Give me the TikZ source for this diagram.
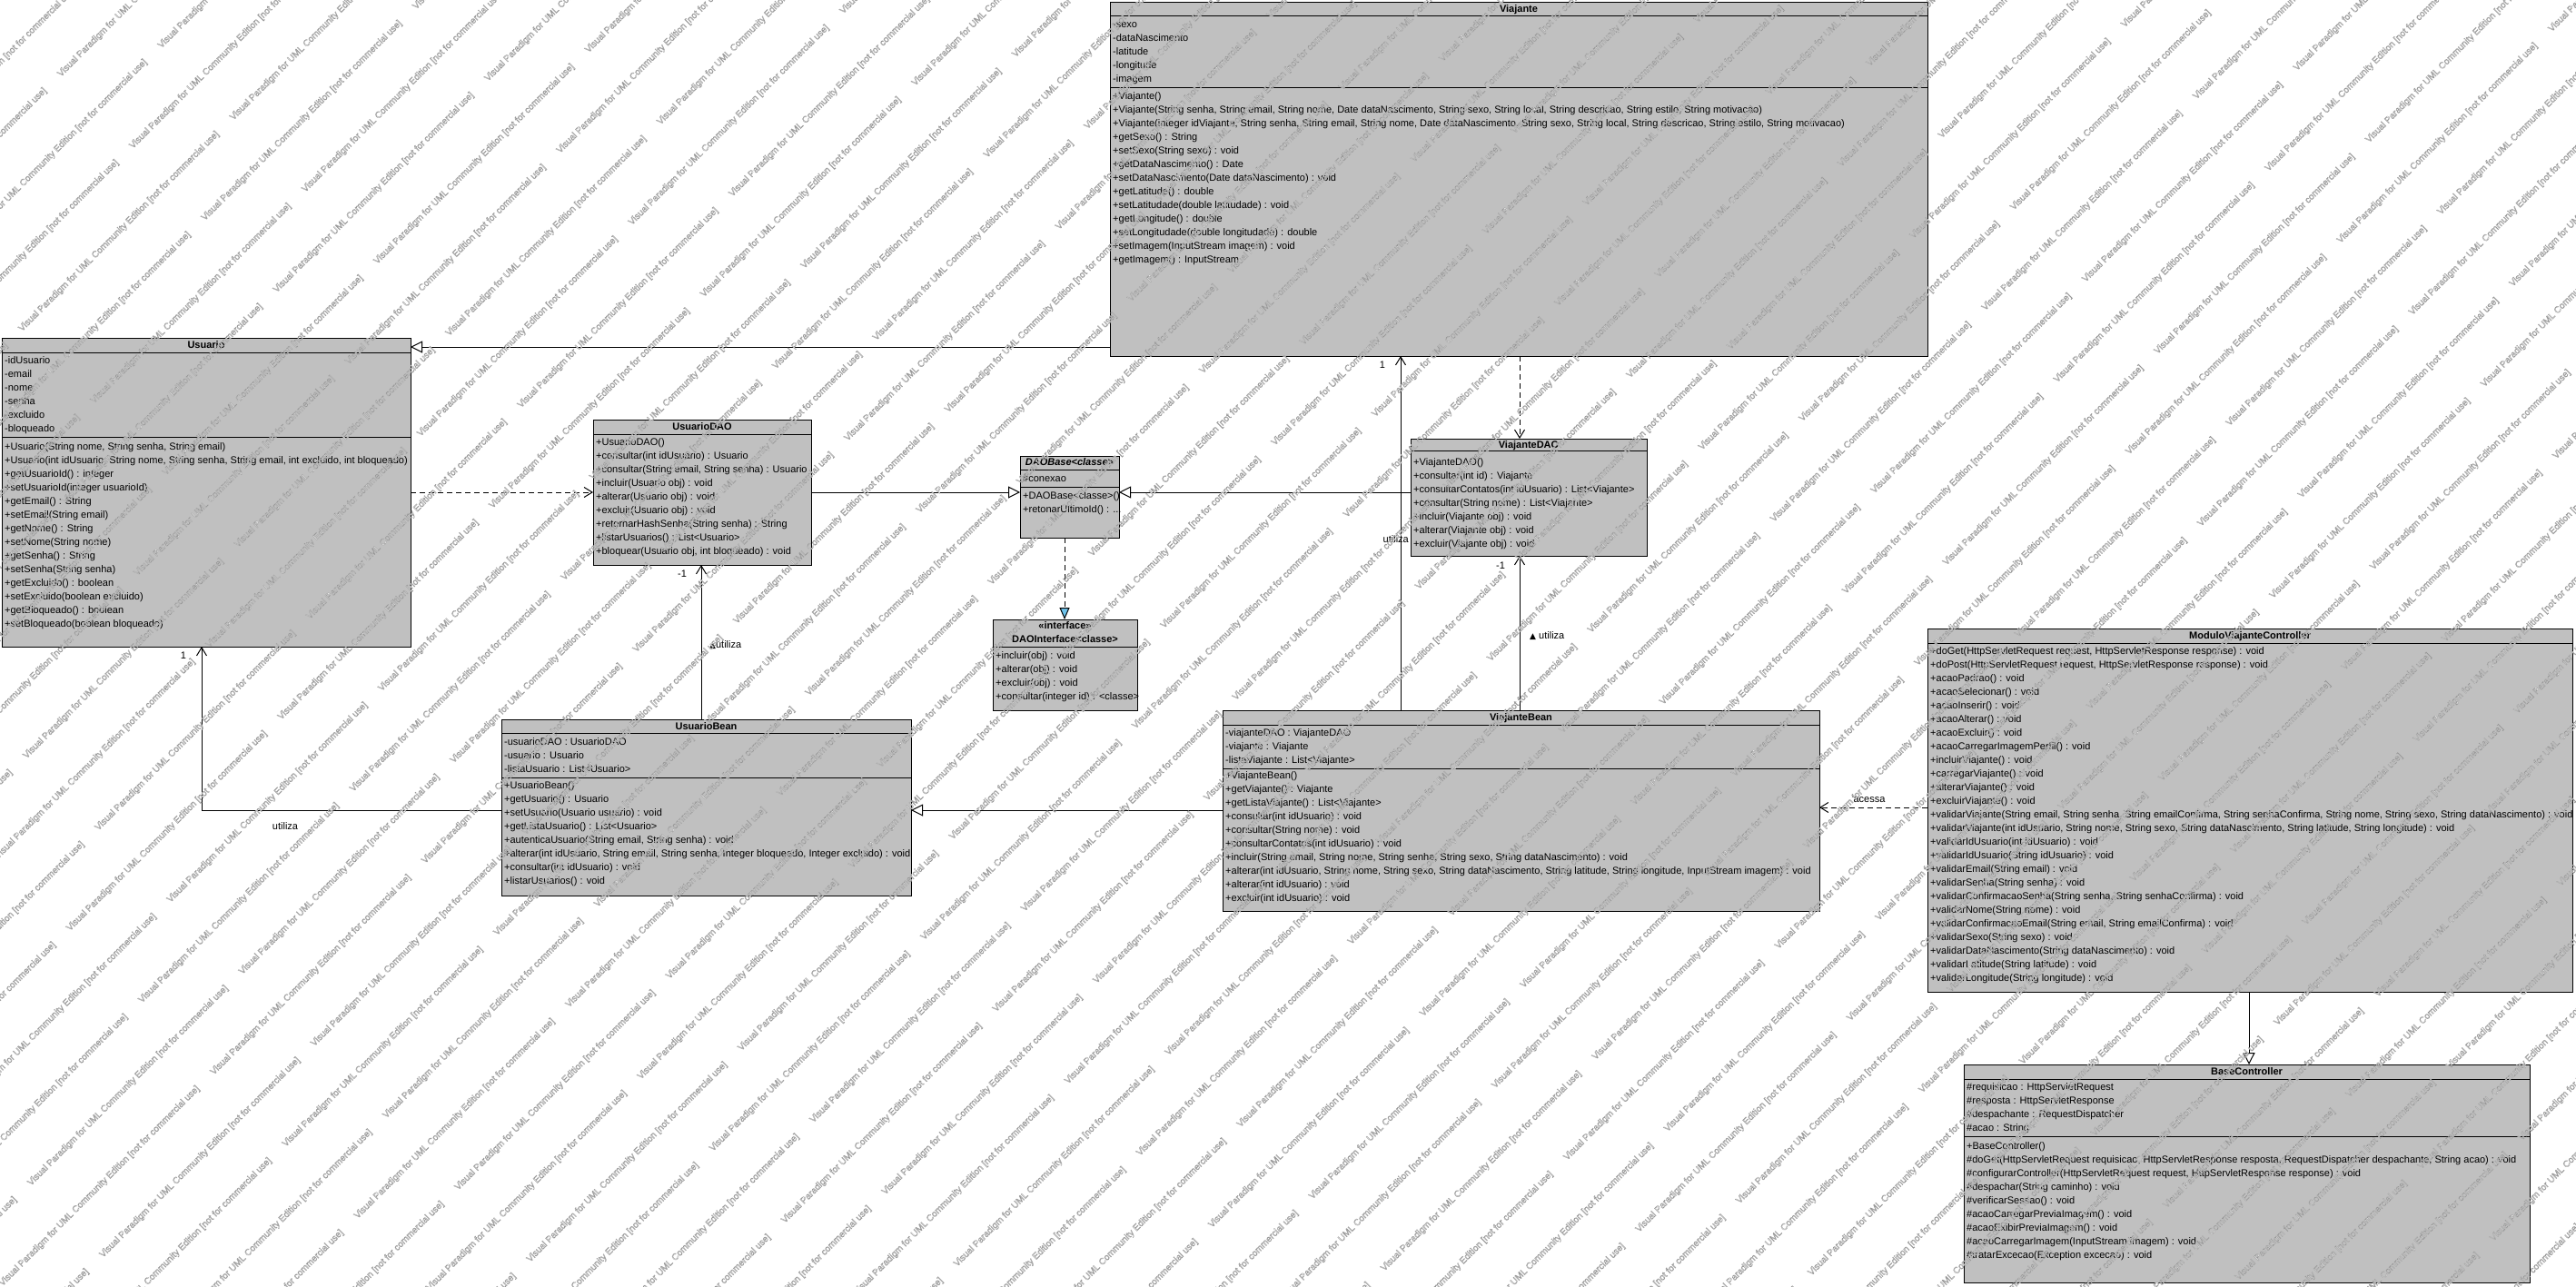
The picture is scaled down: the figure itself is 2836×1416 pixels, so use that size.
\documentclass[tikz,border=0pt]{standalone}
\usepackage{fontspec}
\setmainfont{Liberation Sans}
\newfontfamily\symfont{DejaVu Sans}
\usetikzlibrary{arrows.meta}
\definecolor{classfill}{RGB}{192,192,192}
\definecolor{realfill}{RGB}{110,195,235}

\tikzset{
  classbox/.style={draw=black, fill=classfill, line width=1pt, inner sep=0pt, outer sep=0pt, anchor=north west},
  row/.style={anchor=west, inner sep=0pt, font=\fontsize{11}{13}\selectfont, text height=8pt, text depth=2pt},
  ctitle/.style={anchor=center, inner sep=0pt, font=\fontsize{11}{13}\selectfont\bfseries, text height=8pt, text depth=2pt},
  lbl/.style={inner sep=0pt, font=\fontsize{11}{13}\selectfont, text height=8pt, text depth=2pt},
  wm/.style={anchor=base west, inner sep=0pt, rotate=45, text=white, font=\fontsize{10}{12}\selectfont},
  sepline/.style={line width=1pt},
  conn/.style={line width=1pt},
  gen/.style={conn, -{Triangle[fill=white, length=13pt, width=13pt]}},
  real/.style={conn, dash pattern=on 6pt off 4pt, -{Triangle[fill=realfill, length=13pt, width=11pt]}},
  assoc/.style={conn, -{Straight Barb[length=9pt, width=11pt, line width=1pt]}},
  depend/.style={conn, dash pattern=on 6pt off 4pt, -{Straight Barb[length=9pt, width=11pt, line width=1pt]}},
}

% class frame: name, left, top, right, bottom
\newcommand\umlbox[5]{\node[classbox, minimum width={#4-#2}, minimum height={#5-#3}] (#1) at (#2,#3) {};}
% compartment separator inside a class frame: name, y
\newcommand\umlsep[2]{\draw[sepline] (#1.west |- 0,#2) -- (#1.east |- 0,#2);}
% rows of a compartment: prefix, x, first y, items
\newcommand\umlrows[4]{\foreach \txt [count=\k from 0] in {#4} {\node[row] (#1-\k) at ({#2},{#3+15*\k}) {\txt};}}
% edition stamp, drawn as outlined glyphs (white fill, grey stroke)
\newcommand\stamptext{\special{pdf:literal direct 2 Tr 0.35 w 0.6 G}Visual Paradigm for UML Community Edition [not for commercial use]\special{pdf:literal direct 0 Tr}}

\begin{document}
\begin{tikzpicture}[x=1pt, y=-1pt]
\useasboundingbox (0,0) rectangle (2836,1416);
\fill[white] (0,0) rectangle (2836,1416);

% ---------------- Viajante ----------------
\umlbox{viajante}{1222}{2}{2122}{392}
\node[ctitle] (viajante-t) at (1672,10) {Viajante};
\umlsep{viajante}{17}
\umlrows{viajante-a}{1225}{27}{-sexo, -dataNascimento, -latitude, -longitude, -imagem}
\umlsep{viajante}{96}
\umlrows{viajante-m}{1225}{106}{
  {+Viajante()},
  {+Viajante(String senha, String email, String nome, Date dataNascimento, String sexo, String local, String descricao, String estilo, String motivacao)},
  {+Viajante(integer idViajante, String senha, String email, String nome, Date dataNascimento, String sexo, String local, String descricao, String estilo, String motivacao)},
  {+getSexo() : String},
  {+setSexo(String sexo) : void},
  {+getDataNascimento() : Date},
  {+setDataNascimento(Date dataNascimento) : void},
  {+getLatitude() : double},
  {+setLatitudade(double latitudade) : void},
  {+getLongitude() : double},
  {+setLongitudade(double longitudade) : double},
  {+setImagem(InputStream imagem) : void},
  {+getImagem() : InputStream}}

% ---------------- Usuario ----------------
\umlbox{usuario}{2}{372}{452}{712}
\node[ctitle] (usuario-t) at (227,380) {Usuario};
\umlsep{usuario}{388}
\umlrows{usuario-a}{5}{397}{-idUsuario, -email, -nome, -senha, -excluido, -bloqueado}
\umlsep{usuario}{481}
\umlrows{usuario-m}{5}{492}{
  {+Usuario(String nome, String senha, String email)},
  {+Usuario(int idUsuario, String nome, String senha, String email, int excluido, int bloqueado)},
  {+getUsuarioId() : integer},
  {+setUsuarioId(integer usuarioId)},
  {+getEmail() : String},
  {+setEmail(String email)},
  {+getNome() : String},
  {+setNome(String nome)},
  {+getSenha() : String},
  {+setSenha(String senha)},
  {+getExcluido() : boolean},
  {+setExcluido(boolean excluido)},
  {+getBloqueado() : boolean},
  {+setBloqueado(boolean bloqueado)}}

% ---------------- UsuarioDAO ----------------
\umlbox{usuariodao}{653}{462}{893}{622}
\node[ctitle] (usuariodao-t) at (773,470) {UsuarioDAO};
\umlsep{usuariodao}{478}
\umlrows{usuariodao-m}{656}{487}{
  {+UsuarioDAO()},
  {+consultar(int idUsuario) : Usuario},
  {+consultar(String email, String senha) : Usuario},
  {+incluir(Usuario obj) : void},
  {+alterar(Usuario obj) : void},
  {+excluir(Usuario obj) : void},
  {+retornarHashSenha(String senha) : String},
  {+listarUsuarios() : List<Usuario>},
  {+bloquear(Usuario obj, int bloqueado) : void}}

% ---------------- DAOBase ----------------
\umlbox{daobase}{1123}{502}{1232}{592}
\node[ctitle, font=\fontsize{11}{13}\selectfont\bfseries\itshape] (daobase-t) at (1177.5,509.5) {DAOBase<classe>};
\umlsep{daobase}{517}
\node[row] (daobase-a-0) at (1126,527) {\#conexao};
\umlsep{daobase}{536}
\node[row] (daobase-m-0) at (1126,546) {+DAOBase<classe>()};
\node[row] (daobase-m-1) at (1126,561) {+retonarUltimoId() : ...};

% ---------------- DAOInterface ----------------
\umlbox{daointerface}{1093}{682}{1252}{782}
\node[ctitle] (daointerface-s) at (1172.5,689) {<<interface>>};
\node[ctitle] (daointerface-t) at (1172.5,704) {DAOInterface<classe>};
\umlsep{daointerface}{712}
\umlrows{daointerface-m}{1096}{722}{
  {+incluir(obj) : void},
  {+alterar(obj) : void},
  {+excluir(obj) : void},
  {+consultar(integer id) : <classe>}}

% ---------------- ViajanteDAO ----------------
\umlbox{viajantedao}{1553}{483}{1813}{612}
\node[ctitle] (viajantedao-t) at (1683,490) {ViajanteDAO};
\umlsep{viajantedao}{496}
\umlrows{viajantedao-m}{1556}{509}{
  {+ViajanteDAO()},
  {+consultar(int id) : Viajante},
  {+consultarContatos(int idUsuario) : List<Viajante>},
  {+consultar(String nome) : List<Viajante>},
  {+incluir(Viajante obj) : void},
  {+alterar(Viajante obj) : void},
  {+excluir(Viajante obj) : void}}

% ---------------- UsuarioBean ----------------
\umlbox{usuariobean}{552}{792}{1003}{986}
\node[ctitle] (usuariobean-t) at (777.5,800) {UsuarioBean};
\umlsep{usuariobean}{807}
\umlrows{usuariobean-a}{555}{817}{
  {-usuarioDAO : UsuarioDAO},
  {-usuario : Usuario},
  {-listaUsuario : List<Usuario>}}
\umlsep{usuariobean}{856}
\umlrows{usuariobean-m}{555}{865}{
  {+UsuarioBean()},
  {+getUsuario() : Usuario},
  {+setUsuario(Usuario usuario) : void},
  {+getListaUsuario() : List<Usuario>},
  {+autenticaUsuario(String email, String senha) : void},
  {+alterar(int idUsuario, String email, String senha, Integer bloqueado, Integer excluido) : void},
  {+consultar(int idUsuario) : void},
  {+listarUsuarios() : void}}

% ---------------- ViajanteBean ----------------
\umlbox{viajantebean}{1346}{782}{2003}{1003}
\node[ctitle] (viajantebean-t) at (1674.5,790) {ViajanteBean};
\umlsep{viajantebean}{798}
\umlrows{viajantebean-a}{1349}{807}{
  {-viajanteDAO : ViajanteDAO},
  {-viajante : Viajante},
  {-listaViajante : List<Viajante>}}
\umlsep{viajantebean}{846}
\umlrows{viajantebean-m}{1349}{854}{
  {+ViajanteBean()},
  {+getViajante() : Viajante},
  {+getListaViajante() : List<Viajante>},
  {+consultar(int idUsuario) : void},
  {+consultar(String nome) : void},
  {+consultarContatos(int idUsuario) : void},
  {+incluir(String email, String nome, String senha, String sexo, String dataNascimento) : void},
  {+alterar(int idUsuario, String nome, String sexo, String dataNascimento, String latitude, String longitude, InputStream imagem) : void},
  {+alterar(int idUsuario) : void},
  {+excluir(int idUsuario) : void}}

% ---------------- ModuloViajanteController ----------------
\umlbox{modulo}{2122}{692}{2832}{1092}
\node[ctitle] (modulo-t) at (2477,700) {ModuloViajanteController};
\umlsep{modulo}{708}
\umlrows{modulo-m}{2125}{717}{
  {+doGet(HttpServletRequest request, HttpServletResponse response) : void},
  {+doPost(HttpServletRequest request, HttpServletResponse response) : void},
  {+acaoPadrao() : void},
  {+acaoSelecionar() : void},
  {+acaoInserir() : void},
  {+acaoAlterar() : void},
  {+acaoExcluir() : void},
  {+acaoCarregarImagemPerfil() : void},
  {+incluirViajante() : void},
  {+carregarViajante() : void},
  {+alterarViajante() : void},
  {+excluirViajante() : void},
  {+validarViajante(String email, String senha, String emailConfirma, String senhaConfirma, String nome, String sexo, String dataNascimento) : void},
  {+validarViajante(int idUsuario, String nome, String sexo, String dataNascimento, String latitude, String longitude) : void},
  {+validarIdUsuario(int idUsuario) : void},
  {+validarIdUsuario(String idUsuario) : void},
  {+validarEmail(String email) : void},
  {+validarSenha(String senha) : void},
  {+validarConfirmacaoSenha(String senha, String senhaConfirma) : void},
  {+validarNome(String nome) : void},
  {+validarConfirmacaoEmail(String email, String emailConfirma) : void},
  {+validarSexo(String sexo) : void},
  {+validarDataNascimento(String dataNascimento) : void},
  {+validarLatitude(String latitude) : void},
  {+validarLongitude(String longitude) : void}}

% ---------------- BaseController ----------------
\umlbox{basecontroller}{2162}{1172}{2785}{1412}
\node[ctitle] (basecontroller-t) at (2473.5,1180) {BaseController};
\umlsep{basecontroller}{1188}
\umlrows{basecontroller-a}{2165}{1197}{
  {\#requisicao : HttpServletRequest},
  {\#resposta : HttpServletResponse},
  {\#despachante : RequestDispatcher},
  {\#acao : String}}
\umlsep{basecontroller}{1251}
\umlrows{basecontroller-m}{2165}{1262}{
  {+BaseController()},
  {\#doGet(HttpServletRequest requisicao, HttpServletResponse resposta, RequestDispatcher despachante, String acao) : void},
  {\#configurarController(HttpServletRequest request, HttpServletResponse response) : void},
  {\#despachar(String caminho) : void},
  {\#verificarSessao() : void},
  {\#acaoCarregarPreviaImagem() : void},
  {\#acaoExibirPreviaImagem() : void},
  {\#acaoCarregarImagem(InputStream imagem) : void},
  {\#tratarExcecao(Exception excecao) : void}}

% ---------------- relationships ----------------
% generalizations
\draw[gen] (viajante.west |- 0,382) -- (usuario.east |- 0,382);
\draw[gen] (usuariodao.east |- 0,542) -- (daobase.west |- 0,542);
\draw[gen] (viajantedao.west |- 0,542) -- (daobase.east |- 0,542);
\draw[gen] (viajantebean.west |- 0,892) -- (usuariobean.east |- 0,892);
\draw[gen] (modulo.south -| 2476,0) -- (basecontroller.north -| 2476,0);
% realization
\draw[real] (daobase.south -| 1172,0) -- (daointerface.north -| 1172,0);
% dependencies
\draw[depend] (usuario.east |- 0,542) -- (usuariodao.west |- 0,542);
\draw[depend] (viajante.south -| 1673,0) -- (viajantedao.north -| 1673,0);
\draw[depend] (modulo.west |- 0,889) -- (viajantebean.east |- 0,889);
\node[lbl] (acessa-l) at (2058,880) {acessa};
% associations
\draw[assoc] (viajantebean.north -| 1542,0) -- (viajante.south -| 1542,0);
\node[lbl] (vb-v-m) at (1522,402) {1};
\node[lbl, anchor=east] (vb-v-l) at (1551,594) {utiliza};
\draw[assoc] (viajantebean.north -| 1673,0) -- (viajantedao.south -| 1673,0);
\node[lbl] (vb-vd-m) at (1652,623) {-1};
\node[lbl, anchor=west] (vb-vd-l) at (1684,700) {{\symfont\fontsize{9}{10}\selectfont ▲} utiliza};
\draw[assoc] (usuariobean.north -| 772,0) -- (usuariodao.south -| 772,0);
\node[lbl] (ub-ud-m) at (751,632) {-1};
\node[lbl, anchor=west] (ub-ud-l) at (781,710) {{\symfont\fontsize{9}{10}\selectfont ▲}utiliza};
\draw[assoc] (usuariobean.west |- 0,892) -| (usuario.south -| 222,0);
\node[lbl] (ub-u-m) at (202,722) {1};
\node[lbl] (ub-u-l) at (314,910) {utiliza};

% ---------------- edition stamp over the whole sheet ----------------
\foreach \r in {-2,...,56} {
  \pgfmathsetmacro\nn{107.5+56*\r}
  \pgfmathsetmacro\uo{-12.7+100.4*mod(\r+100,2)}
  \foreach \c in {-10,...,12} {
    \pgfmathsetmacro\xx{(\uo+329*\c+\nn)/1.41421}
    \pgfmathsetmacro\yy{(\nn-\uo-329*\c)/1.41421}
    \pgfmathtruncatemacro\inside{and(and(\xx>-330,\xx<2840),and(\yy>-10,\yy<1640))}
    \ifnum\inside=1
      \node[wm] (stamp-\r-\c) at (\xx,\yy) {\stamptext};
    \fi
  }
}
\end{tikzpicture}
\end{document}
